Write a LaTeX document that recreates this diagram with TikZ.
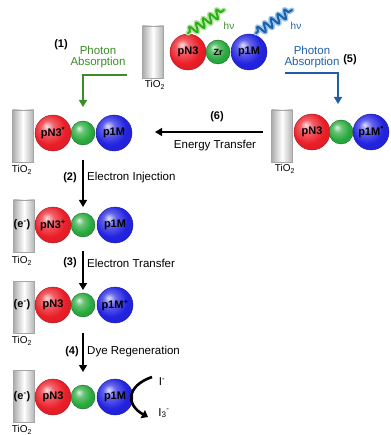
\documentclass[tikz,border=0pt]{standalone}
\usepackage{fontspec}
\setmainfont{Liberation Sans}
\usetikzlibrary{arrows.meta,decorations.pathmorphing}
\definecolor{absgreen}{RGB}{60,140,40}
\definecolor{absblue}{RGB}{30,95,165}
\definecolor{glowgreen}{RGB}{120,210,80}
\definecolor{glowblue}{RGB}{70,150,230}
\definecolor{dyered}{RGB}{235,30,40}
\definecolor{dyeblue}{RGB}{35,35,225}
\definecolor{linkgreen}{RGB}{40,170,60}
\colorlet{ballc}{red}
% glossy sphere: highlight up-left, saturated body, slightly darker rim
\pgfdeclareradialshading[ballc]{glossy}{\pgfpoint{-9bp}{10bp}}{%
  color(0bp)=(ballc!15!white);
  color(9bp)=(ballc!70!white);
  color(22bp)=(ballc);
  color(38bp)=(ballc!88!black);
  color(50bp)=(ballc!75!black)}
\tikzset{
  px/.style={x=1pt,y=-1pt},
  ballcol/.code={\colorlet{ballc}{#1}},
  tio/.style={draw=gray!70,line width=0.8pt,left color=gray!65,right color=gray!60,middle color=white,minimum width=21pt,minimum height=52pt,inner sep=0pt},
  tiolbl/.style={font=\fontsize{10}{11}\selectfont,inner sep=0pt},
  bigball/.style={circle,minimum size=36pt,inner sep=0pt,font=\bfseries\fontsize{11}{12}\selectfont,draw=#1!70!black,line width=0.4pt,ballcol=#1,shading=glossy},
  smallball/.style={circle,minimum size=24pt,inner sep=0pt,font=\bfseries\fontsize{9}{10}\selectfont,draw=linkgreen!60!black,line width=0.4pt,ballcol=linkgreen,shading=glossy},
  lbl/.style={font=\fontsize{11.5}{13}\selectfont,inner sep=1pt},
  num/.style={font=\bfseries\fontsize{11}{13}\selectfont,inner sep=1pt},
  step arrow/.style={-{Triangle[length=7pt,width=8pt]},line width=1.4pt},
  photon/.style={decorate,decoration={snake,segment length=8pt,amplitude=4.5pt,pre length=2pt,post length=1pt},line width=#1,line cap=round,line join=round},
}
\begin{document}
\begin{tikzpicture}[px]
\useasboundingbox (0,0) rectangle (390,435);

% ---- top: assembled dyad on TiO2 ----
\node[tio] (t0) at (153,52) {};
\node[tiolbl] (t0l) at (155,85) {TiO\textsubscript{2}};
\node[bigball=dyered] (r0) at (188,52) {pN3};
\node[smallball] (g0) at (218,52) {Zr};
\node[bigball=dyeblue] (b0) at (249,52) {p1M};

% incoming photons
\coordinate (pg1) at (188,33); \coordinate (pg2) at (224,10);
\coordinate (pb1) at (256,33); \coordinate (pb2) at (292,10);
\draw[photon=5pt,glowgreen!55] (pg1) -- (pg2);
\draw[photon=2pt,absgreen!70!green] (pg1) -- (pg2);
\draw[photon=5pt,glowblue!55] (pb1) -- (pb2);
\draw[photon=2pt,absblue] (pb1) -- (pb2);
\node[font=\fontsize{10}{11}\selectfont,text=absgreen,inner sep=0pt] (hv1) at (229,26) {hν};
\node[font=\fontsize{10}{11}\selectfont,text=absblue,inner sep=0pt] (hv2) at (296,26) {hν};

% ---- (1) photon absorption, green ----
\node[num] (n1) at (61,45) {(1)};
\node[lbl,text=absgreen,align=center] (a1) at (98,57) {Photon\\[-2pt]Absorption};
\coordinate (c1a) at (127,75); \coordinate (c1b) at (83,75); \coordinate (c1c) at (83,107);
\draw[absgreen,line width=1.4pt,-{Triangle[length=7pt,width=8pt]}] (c1a) -- (c1b) -- (c1c);

% ---- (5) photon absorption, blue ----
\node[lbl,text=absblue,align=center] (a5) at (312,57) {Photon\\[-2pt]Absorption};
\node[num] (n5) at (350,60) {(5)};
\coordinate (c5a) at (285,73); \coordinate (c5b) at (338,73); \coordinate (c5c) at (338,104);
\draw[absblue,line width=1.4pt,-{Triangle[length=7pt,width=8pt]}] (c5a) -- (c5b) -- (c5c);

% ---- excited p1M* on the right ----
\node[tio] (tR) at (282,136) {};
\node[tiolbl] (tRl) at (285,169) {TiO\textsubscript{2}};
\node[bigball=dyered] (rR) at (312,132) {pN3};
\node[smallball] (gR) at (341,132) {};
\node[bigball=dyeblue] (bR) at (371,132) {p1M\textsuperscript{*}};

% ---- row 1: pN3* ----
\node[tio] (t1) at (23,136) {};
\node[tiolbl] (t1l) at (22,170) {TiO\textsubscript{2}};
\node[bigball=dyered] (r1) at (53,133) {pN3\textsuperscript{*}};
\node[smallball] (g1) at (83,133) {};
\node[bigball=dyeblue] (b1) at (114,133) {p1M};

% (6) energy transfer
\coordinate (e6a) at (263,132); \coordinate (e6b) at (155,132);
\draw[step arrow] (e6a) -- (e6b);
\node[num] (n6) at (217,117) {(6)};
\node[lbl] (l6) at (215,146) {Energy Transfer};

% ---- row 2: pN3+ with injected electron ----
\node[tio] (t2) at (24,226) {};
\node[tiolbl] (t2l) at (22,261) {TiO\textsubscript{2}};
\node[bigball=dyered] (r2) at (53,225) {pN3\textsuperscript{+}};
\node[smallball] (g2) at (83,225) {};
\node[bigball=dyeblue] (b2) at (115,225) {p1M};
\node[num] (e2) at (22,225) {(e\textsuperscript{-})};

\draw[step arrow] (83,160) -- (83,207);
\node[num] (n2) at (70,178) {(2)};
\node[lbl,anchor=west] (l2) at (86,178) {Electron Injection};

% ---- row 3: p1M+ ----
\node[tio] (t3) at (24,307) {};
\node[tiolbl] (t3l) at (22,341) {TiO\textsubscript{2}};
\node[bigball=dyered] (r3) at (53,305) {pN3};
\node[smallball] (g3) at (83,305) {};
\node[bigball=dyeblue] (b3) at (115,305) {p1M\textsuperscript{+}};
\node[num] (e3) at (22,305) {(e\textsuperscript{-})};

\draw[step arrow] (83,251) -- (83,290);
\node[num] (n3) at (70,263) {(3)};
\node[lbl,anchor=west] (l3) at (86,263) {Electron Transfer};

% ---- row 4: regenerated dye ----
\node[tio] (t4) at (24,396) {};
\node[tiolbl] (t4l) at (22,430) {TiO\textsubscript{2}};
\node[bigball=dyered] (r4) at (53,397) {pN3};
\node[smallball] (g4) at (83,397) {};
\node[bigball=dyeblue] (b4) at (115,397) {p1M};
\node[num] (e4) at (22,397) {(e\textsuperscript{-})};

\draw[step arrow] (83,333) -- (83,372);
\node[num] (n4) at (72,352) {(4)};
\node[lbl,anchor=west] (l4) at (86,352) {Dye Regeneration};

% iodide / triiodide cycle
\coordinate (i1) at (152,377); \coordinate (i2) at (148,417);
\draw[line width=2.6pt,-{Triangle[length=6pt,width=9pt]}] (i1) .. controls (126,386) and (126,405) .. (i2);
\node[lbl] (ia) at (162,382) {I\textsuperscript{-}};
\node[lbl] (ib) at (164,413) {I\textsubscript{3}\textsuperscript{-}};
\end{tikzpicture}
\end{document}
